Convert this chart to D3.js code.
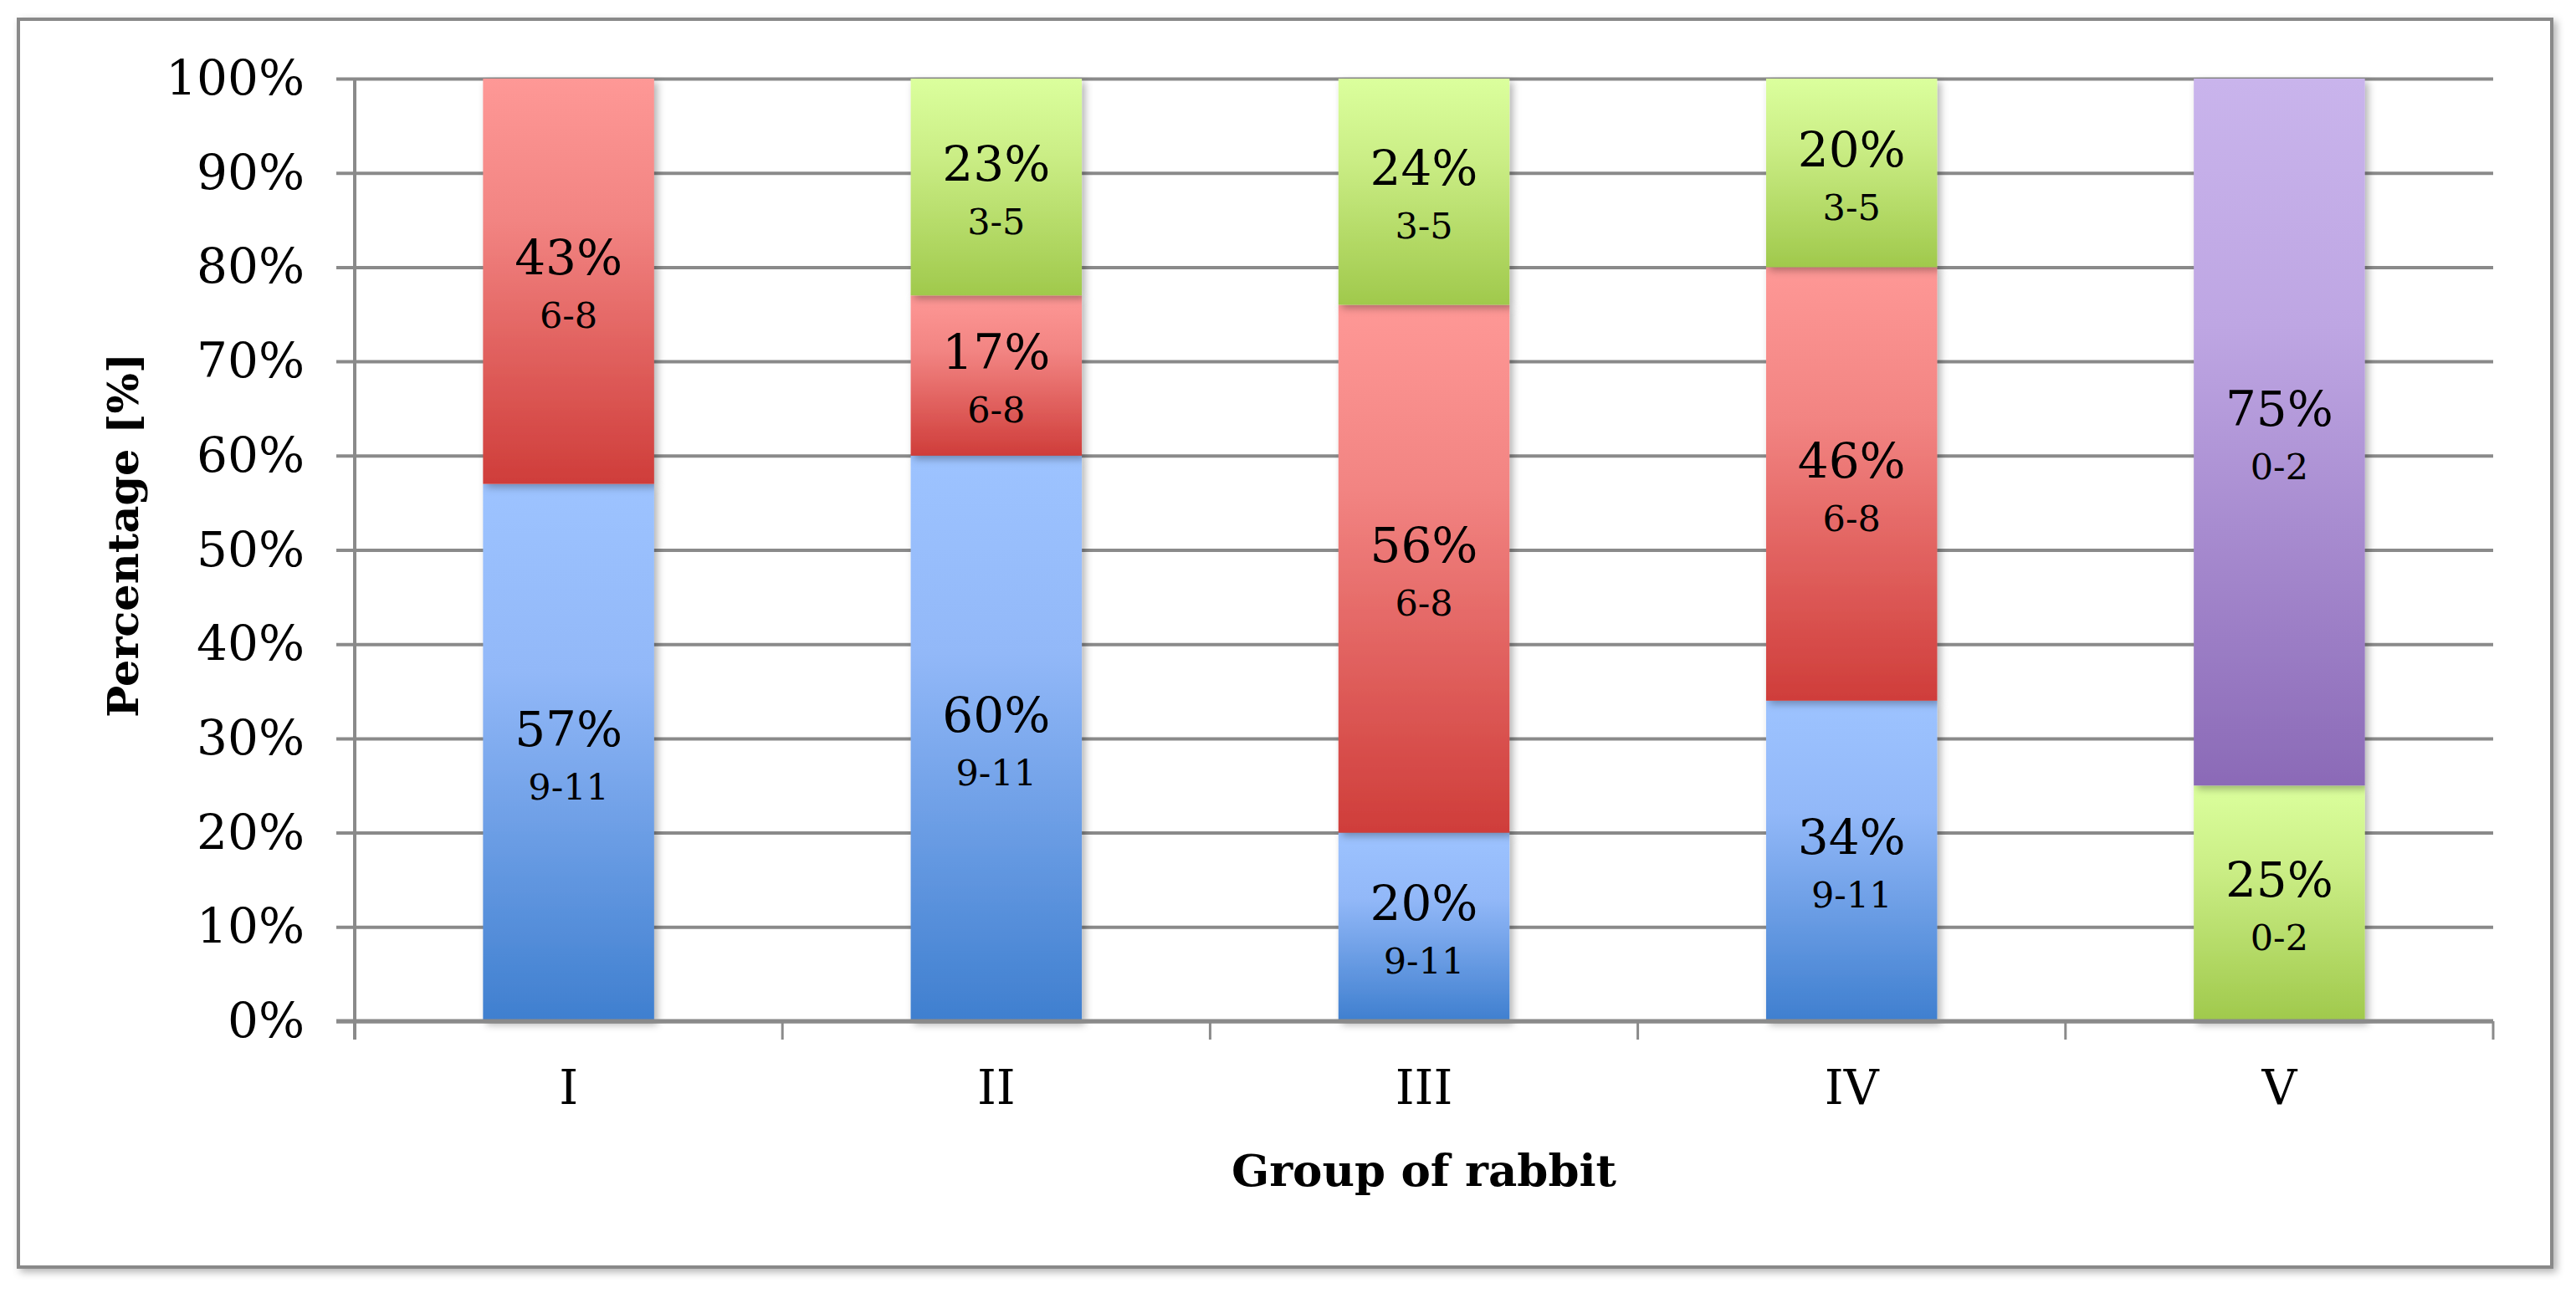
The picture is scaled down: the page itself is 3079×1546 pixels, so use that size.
<!DOCTYPE html>
<html>
<head>
<meta charset="utf-8">
<script src="https://cdn.jsdelivr.net/npm/d3@7"></script>
<style>
  html, body { margin: 0; padding: 0; background: #fff; }
  svg { display: block; }
  text { font-family: "DejaVu Serif", serif; fill: #000; }
</style>
</head>
<body>
<svg id="chart"></svg>
<script>
// data
const groups = ['I', 'II', 'III', 'IV', 'V']
const seriesKeys = ['blue', 'red', 'green', 'purple']
const blueValues = [57, 60, 20, 34, 0]
const redValues = [43, 17, 56, 46, 0]
const greenValues = [0, 23, 24, 20, 25]
const purpleValues = [0, 0, 0, 0, 75]
const blueRanges = ['9-11', '9-11', '9-11', '9-11', '']
const redRanges = ['6-8', '6-8', '6-8', '6-8', '']
const greenRanges = ['', '3-5', '3-5', '3-5', '0-2']
const purpleRanges = ['', '', '', '', '0-2']
const yTicks = [0, 10, 20, 30, 40, 50, 60, 70, 80, 90, 100]
const yTitle = 'Percentage [%]'
const xTitle = 'Group of rabbit'

const W = 3079
const H = 1546
const margin = { top: 94, right: 99, bottom: 325, left: 424 }

const svg = d3.select('#chart')
    .attr('width', W)
    .attr('height', H)

const defs = svg.append('defs')

// gradients, light on top, dark on bottom
const palette = {
    blue: ['#9dc3ff', '#92b8f8', '#3f7fcf'],
    red: ['#fe9896', '#f28482', '#cf3d3a'],
    green: ['#dbff9d', '#cbee86', '#a0c94c'],
    purple: ['#c9b4ec', '#bea6e3', '#8b6ab7']
}
seriesKeys.forEach(k => {
    const g = defs.append('linearGradient')
        .attr('id', 'grad-' + k)
        .attr('x1', 0).attr('y1', 0)
        .attr('x2', 0).attr('y2', 1)
    g.append('stop').attr('offset', '0%').attr('stop-color', palette[k][0])
    g.append('stop').attr('offset', '35%').attr('stop-color', palette[k][1])
    g.append('stop').attr('offset', '100%').attr('stop-color', palette[k][2])
})

const shadow = defs.append('filter')
    .attr('id', 'shadow')
    .attr('x', '-20%').attr('y', '-20%')
    .attr('width', '140%').attr('height', '140%')
shadow.append('feDropShadow')
    .attr('dx', 4).attr('dy', 4)
    .attr('stdDeviation', 5)
    .attr('flood-color', '#000')
    .attr('flood-opacity', 0.3)

// outer frame
svg.append('rect')
    .attr('x', 22).attr('y', 23)
    .attr('width', 3028).attr('height', 1492)
    .attr('fill', '#fff')
    .attr('stroke', '#898989')
    .attr('stroke-width', 4)
    .attr('filter', 'url(#shadow)')

const x = d3.scaleBand()
    .domain(groups)
    .range([margin.left, W - margin.right])
    .padding(0)

const y = d3.scaleLinear()
    .domain([0, 100])
    .range([H - margin.bottom, margin.top])

const gridColor = '#8a8a8a'
const tickLen = 22

// gridlines (also the small outer ticks)
svg.append('g')
    .attr('transform', `translate(${margin.left - tickLen},0)`)
    .call(d3.axisRight(y).tickValues(yTicks).tickFormat('').tickSize(W - margin.right - margin.left + tickLen))
    .call(g => g.select('.domain').remove())
    .call(g => g.selectAll('line').attr('stroke', gridColor).attr('stroke-width', 4))

// y tick labels
svg.append('g')
    .attr('transform', `translate(${margin.left - tickLen},0)`)
    .call(d3.axisLeft(y).tickValues(yTicks).tickFormat(d => d + '%').tickSize(0).tickPadding(38))
    .call(g => g.select('.domain').remove())
    .call(g => g.selectAll('text').style('font-size', '58px').attr('fill', '#000'))

// vertical axis line
svg.append('line')
    .attr('x1', margin.left).attr('x2', margin.left)
    .attr('y1', y(100)).attr('y2', y(0) + tickLen)
    .attr('stroke', gridColor)
    .attr('stroke-width', 4)

// x boundary ticks
const bounds = groups.map(g => x(g)).concat([x(groups[groups.length - 1]) + x.bandwidth()])
svg.append('g')
    .selectAll('line')
    .data(bounds.slice(1))
    .join('line')
    .attr('x1', d => d).attr('x2', d => d)
    .attr('y1', y(0)).attr('y2', y(0) + tickLen)
    .attr('stroke', gridColor)
    .attr('stroke-width', 3)

// x labels
svg.append('g')
    .attr('transform', `translate(0,${y(0)})`)
    .call(d3.axisBottom(x).tickSize(0).tickPadding(58))
    .call(g => g.select('.domain').remove())
    .call(g => g.selectAll('text').style('font-size', '58px').attr('fill', '#000'))

// stacked bars
const table = groups.map((g, i) => ({
    group: g,
    blue: blueValues[i],
    red: redValues[i],
    green: greenValues[i],
    purple: purpleValues[i]
}))
const ranges = { blue: blueRanges, red: redRanges, green: greenRanges, purple: purpleRanges }
const stacked = d3.stack().keys(seriesKeys)(table)

const barW = x.bandwidth() * 0.4
const bars = svg.append('g')

stacked.forEach(layer => {
    bars.append('g')
        .selectAll('rect')
        .data(layer.filter(d => d[1] - d[0] > 0))
        .join('rect')
        .attr('x', d => x(d.data.group) + (x.bandwidth() - barW) / 2)
        .attr('y', d => y(d[1]))
        .attr('width', barW)
        .attr('height', d => y(d[0]) - y(d[1]))
        .attr('fill', `url(#grad-${layer.key})`)
        .attr('filter', 'url(#shadow)')
})

// repaint the 0% line above the bar shadows
svg.append('line')
    .attr('x1', margin.left - tickLen).attr('x2', W - margin.right)
    .attr('y1', y(0)).attr('y2', y(0))
    .attr('stroke', gridColor)
    .attr('stroke-width', 5)

// data labels
const labels = svg.append('g')
stacked.forEach(layer => {
    layer.forEach((d, i) => {
        const v = d[1] - d[0]
        if (v <= 0) return
        const cx = x(d.data.group) + x.bandwidth() / 2
        const cy = y((d[0] + d[1]) / 2)
        labels.append('text')
            .attr('x', cx)
            .attr('y', cy - 8)
            .attr('text-anchor', 'middle')
            .style('font-size', '58px')
            .text(v + '%')
        labels.append('text')
            .attr('x', cx)
            .attr('y', cy + 56)
            .attr('text-anchor', 'middle')
            .style('font-size', '43px')
            .text(ranges[layer.key][i])
    })
})

// axis titles
svg.append('text')
    .attr('transform', `translate(165,640) rotate(-90)`)
    .attr('text-anchor', 'middle')
    .style('font-size', '51px')
    .style('font-weight', 'bold')
    .text(yTitle)

svg.append('text')
    .attr('x', (margin.left + W - margin.right) / 2)
    .attr('y', 1418)
    .attr('text-anchor', 'middle')
    .style('font-size', '53px')
    .style('font-weight', 'bold')
    .text(xTitle)
</script>
</body>
</html>
